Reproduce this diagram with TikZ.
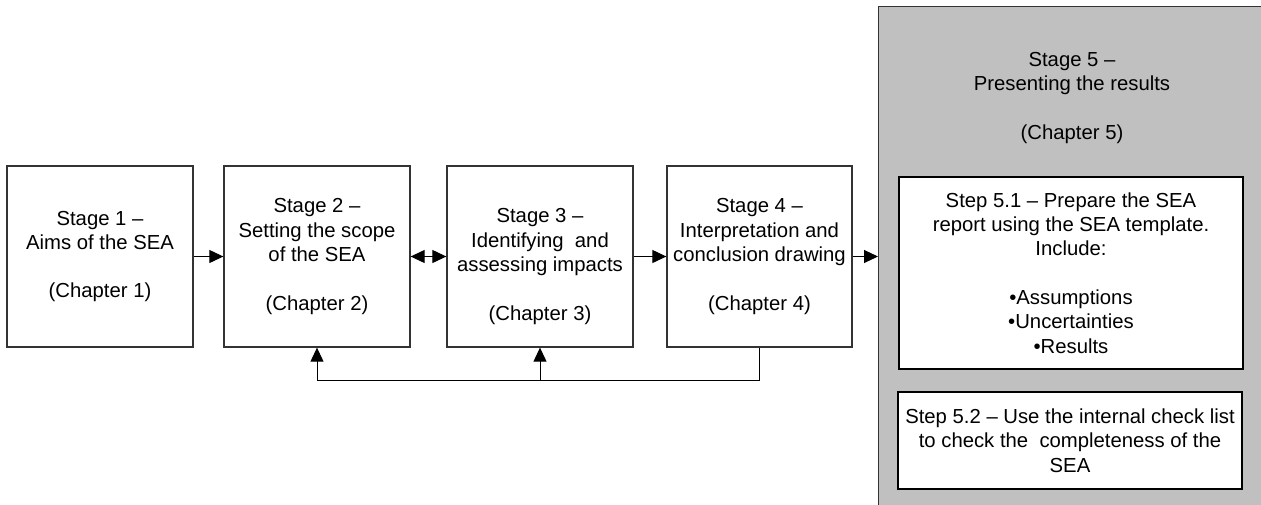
\documentclass[tikz,border=0pt]{standalone}
\usepackage{fontspec}
\setmainfont{Liberation Sans}
\usetikzlibrary{arrows.meta}
\definecolor{edge}{HTML}{333333}
\definecolor{panel}{HTML}{C0C0C0}
\begin{document}
\begin{tikzpicture}[x=1pt,y=-1pt,
  txt/.style={font=\fontsize{20.3}{24.3}\selectfont, align=center, inner sep=0pt},
  stagebox/.style={txt, draw=edge, line width=1.3pt, fill=white, minimum width=186pt, minimum height=181pt},
  stepbox/.style={txt, draw=black, line width=1.2pt, fill=white, minimum width=344pt},
  conn/.style={draw=black, line width=1pt},
  tip/.style={-{Triangle[length=14pt,width=13pt]}}
]
\useasboundingbox (0,0) rectangle (1261,504);
% Stage 5 panel
\node[draw=edge, line width=1.3pt, fill=panel, minimum width=400pt, minimum height=520pt, anchor=north west, inner sep=0pt] (panel) at (878,6) {};
\node[txt] (p5) at (1072,98) {Stage 5 --\\Presenting the results\\ ~\\(Chapter 5)};
\node[stepbox, minimum height=192pt] (s51) at (1071,273) {Step 5.1 -- Prepare the SEA\\report using the SEA template.\\Include:\\ ~\\\textbullet Assumptions\\\textbullet Uncertainties\\\textbullet Results};
\node[stepbox, minimum height=97pt] (s52) at (1070,440.5) {Step 5.2 -- Use the internal check list\\to check the\ \ completeness of the\\SEA};
% Stages
\node[stagebox] (b1) at (100,256.5) {Stage 1 --\\Aims of the SEA\\ ~\\(Chapter 1)};
\node[stagebox] (b2) at (317,256.5) {Stage 2 --\\Setting the scope\\of the SEA\\ ~\\(Chapter 2)};
\node[stagebox] (b3) at (540,256.5) {};
\node[txt] (t3) at (540,266.5) {Stage 3 --\\Identifying\ \ and\\assessing impacts\\ ~\\(Chapter 3)};
\node[stagebox, minimum width=185pt] (b4) at (759.5,256.5) {Stage 4 --\\Interpretation and\\conclusion drawing\\ ~\\(Chapter 4)};
% connectors
\draw[conn, tip] (b1.east) -- (b2.west);
\draw[conn, {Triangle[length=14pt,width=13pt]}-{Triangle[length=14pt,width=13pt]}] (b2.east) -- (b3.west);
\draw[conn, tip] (b3.east) -- (b4.west);
\draw[conn, tip] (b4.east) -- (b4.east -| panel.west);
\coordinate (fb) at ([yshift=-33pt]b4.south);
\draw[conn, tip] (b4.south) -- (fb) -| (b2.south);
\draw[conn, tip] (b3.south |- fb) -- (b3.south);
\end{tikzpicture}
\end{document}
